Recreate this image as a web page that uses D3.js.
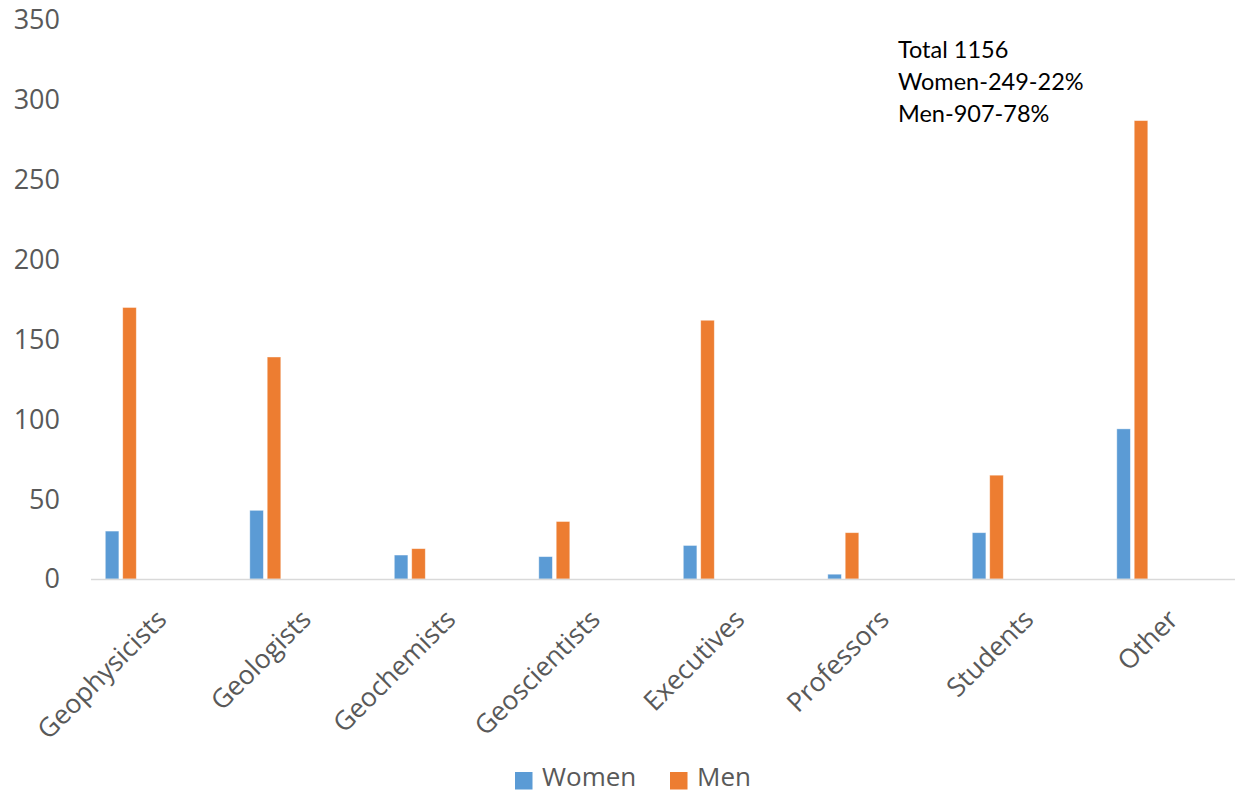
<!DOCTYPE html>
<head>
  <meta charset="utf-8">
  <script src="https://d3js.org/d3.v7.min.js"></script>
  <style>
    body { margin:0; background:#fff; }
    .tick-label { font-family: "Open Sans", sans-serif; font-size: 27px; fill: #595959; }
    .cat-label { font-family: "Open Sans", sans-serif; font-size: 26.5px; fill: #595959; }
    .note { font-family: Lato, "Open Sans", sans-serif; font-size: 23.5px; fill: #000; }
    .legend { font-family: "Open Sans", sans-serif; font-size: 26px; fill: #595959; }
  </style>
</head>
<body>
  <div class="chart"></div>
  <script>
    const categories = ['Geophysicists', 'Geologists', 'Geochemists', 'Geoscientists',
                        'Executives', 'Professors', 'Students', 'Other'];
    const series = ['Women', 'Men'];
    const women = [30, 43, 15, 14, 21, 3, 29, 94];
    const men = [170, 139, 19, 36, 162, 29, 65, 287];
    const yTicks = [0, 50, 100, 150, 200, 250, 300, 350];
    const notes = ['Total 1156', 'Women-249-22%', 'Men-907-78%'];
    const colors = { Women: '#5b9bd5', Men: '#ed7d31' };

    const data = categories.map((c, i) => ({ cat: c, Women: women[i], Men: men[i] }));

    const W = 1235, H = 795;
    const svg = d3.select('.chart').append('svg')
      .attr('width', W).attr('height', H);

    const x0 = d3.scaleBand()
      .domain(categories)
      .range([91, 91 + 8 * 144.5]);

    // bars sit at the left of each category slot
    const x1 = d3.scaleBand()
      .domain(series)
      .range([14.3, 45.3])
      .paddingInner(0.22);

    const y = d3.scaleLinear()
      .domain([0, 350])
      .range([579, 20]);

    // y tick labels
    svg.append('g').selectAll('text')
      .data(yTicks)
      .enter().append('text')
      .attr('class', 'tick-label')
      .attr('x', 60)
      .attr('y', d => y(d))
      .attr('dy', '0.35em')
      .attr('text-anchor', 'end')
      .text(d => d);

    // bars
    const groups = svg.append('g').selectAll('g')
      .data(data)
      .enter().append('g')
      .attr('transform', d => `translate(${x0(d.cat)},0)`);

    groups.selectAll('rect')
      .data(d => series.map(s => ({ s, v: d[s] })))
      .enter().append('rect')
      .attr('x', d => x1(d.s))
      .attr('y', d => y(d.v))
      .attr('width', x1.bandwidth())
      .attr('height', d => y(0) - y(d.v))
      .attr('fill', d => colors[d.s])
      .attr('stroke', '#fff')
      .attr('stroke-opacity', 0.5)
      .attr('stroke-width', 0.8);

    // category axis line
    svg.append('line')
      .attr('x1', x0.range()[0]).attr('x2', x0.range()[1])
      .attr('y1', y(0) + 0.5).attr('y2', y(0) + 0.5)
      .attr('stroke', '#d9d9d9')
      .attr('stroke-width', 1.5);

    // rotated category labels
    svg.append('g').selectAll('text')
      .data(categories)
      .enter().append('text')
      .attr('class', 'cat-label')
      .attr('text-anchor', 'end')
      .attr('transform', d => `translate(${x0(d) + x0.bandwidth() / 2 + 5},${621}) rotate(-45)`)
      .text(d => d);

    // note
    svg.append('g').selectAll('text')
      .data(notes)
      .enter().append('text')
      .attr('class', 'note')
      .attr('x', 898)
      .attr('y', (d, i) => 58 + i * 32)
      .text(d => d);

    // legend
    const legend = svg.append('g')
      .attr('transform', 'translate(515,772)');
    const lx = [0, 155];
    series.forEach((s, i) => {
      legend.append('rect')
        .attr('x', lx[i]).attr('y', 0)
        .attr('width', 17.5).attr('height', 17.5)
        .attr('fill', colors[s]);
      legend.append('text')
        .attr('class', 'legend')
        .attr('x', lx[i] + 27).attr('y', 14)
        .text(s);
    });
  </script>
</body>
